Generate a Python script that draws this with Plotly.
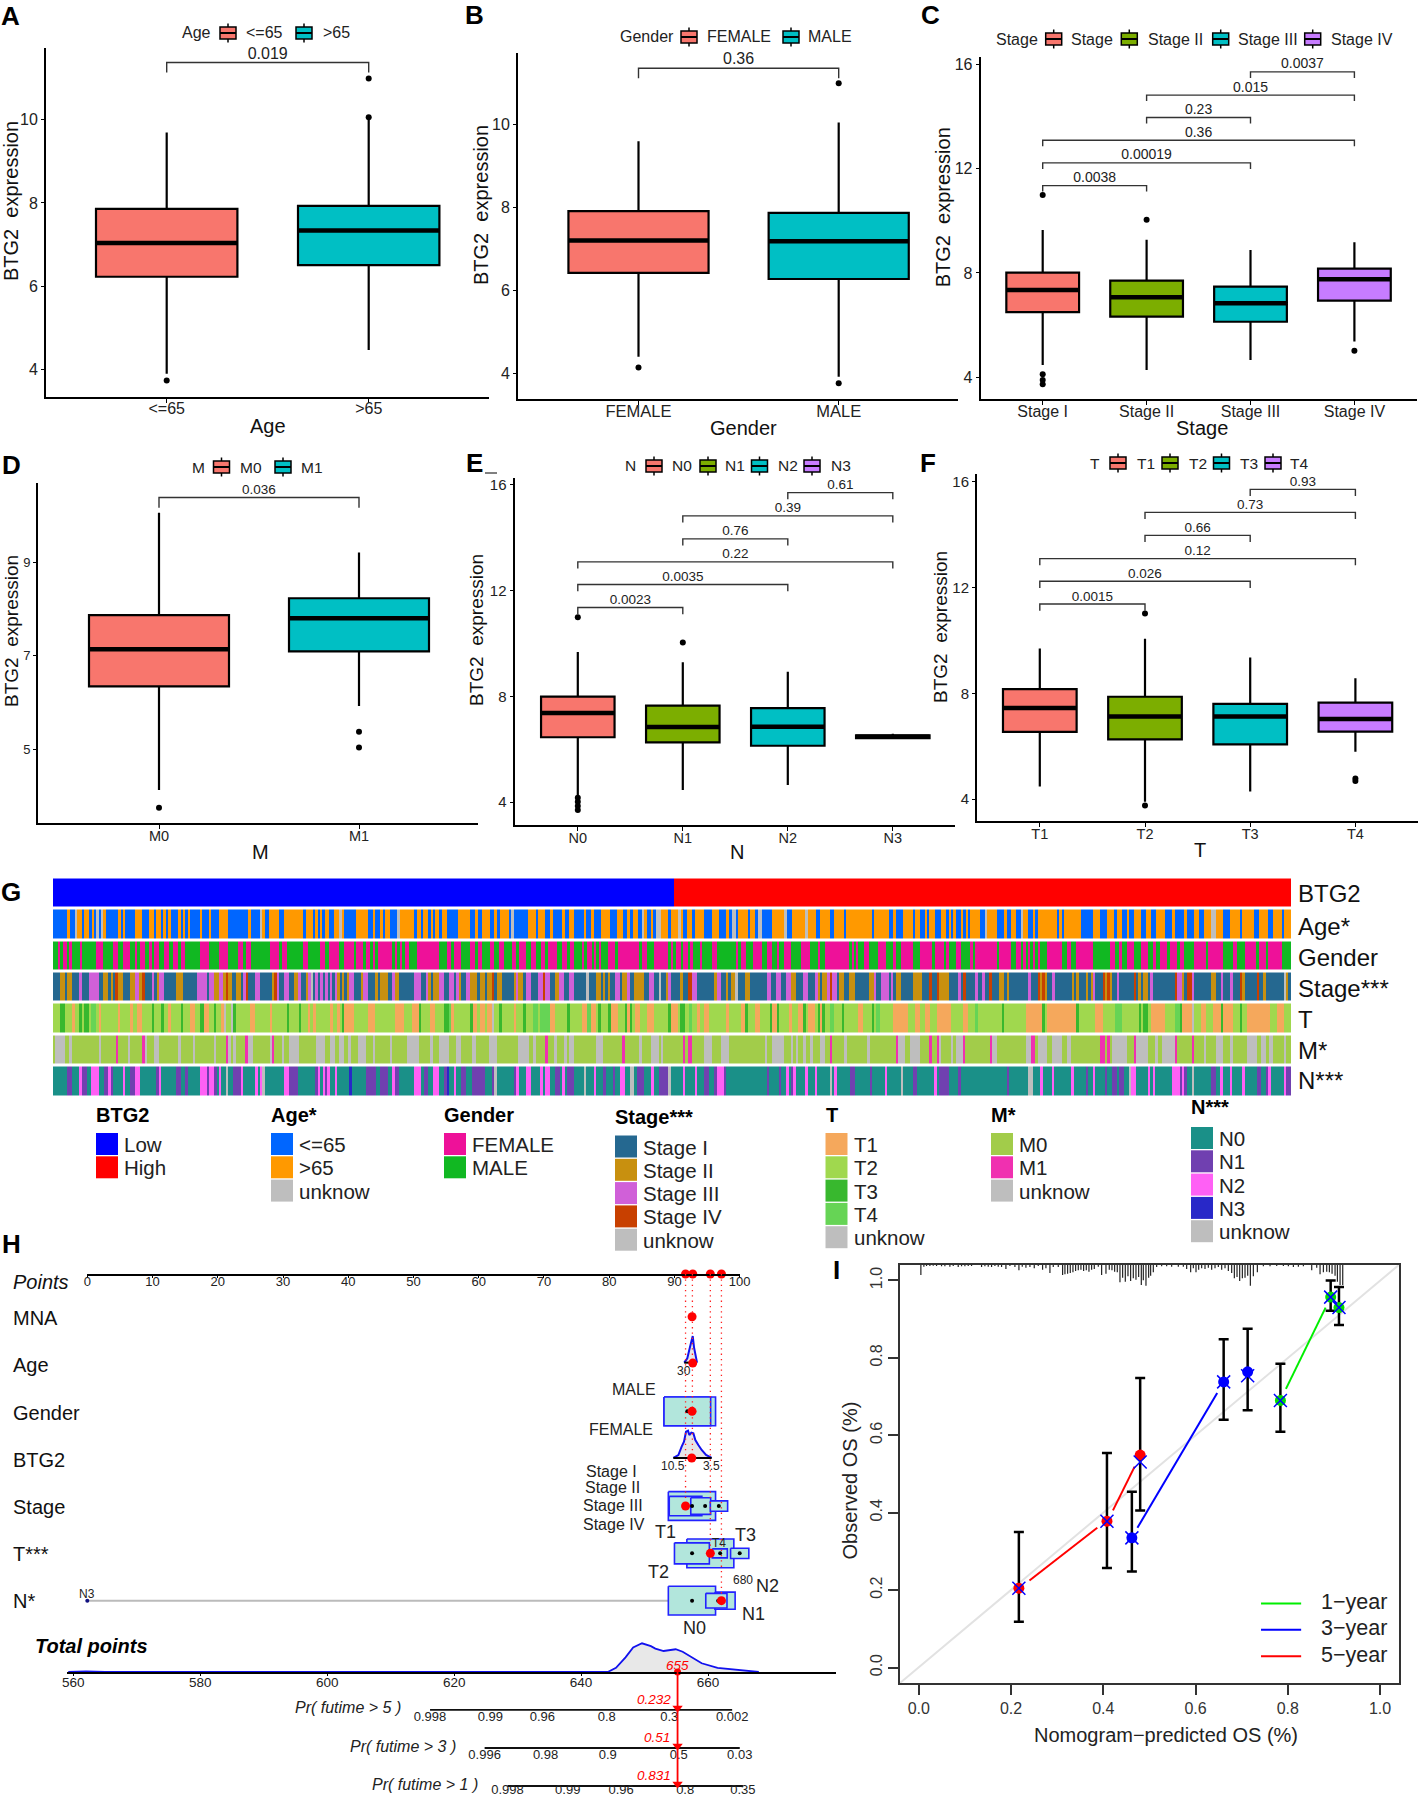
import plotly.graph_objects as go

W, H = 1418, 1798
FONT = "Liberation Sans"
def px(x): return x / W
def py(y): return 1 - y / H

# ---------- panels A-F: box statistics ----------
age_cats = ["<=65", ">65"]
age_q1 = [6.23, 6.51]; age_med = [7.04, 7.34]; age_q3 = [7.86, 7.93]
age_lo = [3.90, 4.47]; age_hi = [9.69, 10.0]
age_out = [[3.74], [10.06, 10.99]]
age_p = [(0, 1, 11.37, "0.019")]

gender_cats = ["FEMALE", "MALE"]
gender_q1 = [6.42, 6.27]; gender_med = [7.20, 7.18]; gender_q3 = [7.91, 7.87]
gender_lo = [4.39, 3.91]; gender_hi = [9.60, 10.05]
gender_out = [[4.13], [3.75, 11.0]]
gender_p = [(0, 1, 11.36, "0.36")]

stage_cats = ["Stage I", "Stage II", "Stage III", "Stage IV"]
stage_q1 = [6.50, 6.33, 6.13, 6.94]; stage_med = [7.35, 7.07, 6.84, 7.76]; stage_q3 = [8.01, 7.71, 7.48, 8.17]
stage_lo = [4.47, 4.28, 4.66, 5.37]; stage_hi = [9.65, 9.27, 8.88, 9.18]
stage_out = [[10.99, 4.12, 3.90, 3.73], [10.04], [], [5.02]]
stage_p = [(0, 1, 11.35, "0.0038"), (0, 2, 12.22, "0.00019"), (0, 3, 13.09, "0.36"),
           (1, 2, 13.96, "0.23"), (1, 3, 14.82, "0.015"), (2, 3, 15.71, "0.0037")]

m_cats = ["M0", "M1"]
m_q1 = [6.34, 7.09]; m_med = [7.14, 7.80]; m_q3 = [7.87, 8.23]
m_lo = [4.12, 5.92]; m_hi = [10.06, 9.21]
m_out = [[3.74], [5.37, 5.03]]
m_p = [(0, 1, 10.39, "0.036")]

n_cats = ["N0", "N1", "N2", "N3"]
n_q1 = [6.45, 6.26, 6.13, 6.42]; n_med = [7.37, 6.84, 6.85, 6.47]; n_q3 = [7.99, 7.65, 7.55, 6.52]
n_lo = [4.26, 4.45, 4.64, 6.38]; n_hi = [9.68, 9.29, 8.93, 6.58]
n_out = [[4.16, 4.01, 3.85, 3.70, 10.99], [10.04], [], []]
n_p = [(0, 1, 11.36, "0.0023"), (0, 2, 12.23, "0.0035"), (0, 3, 13.09, "0.22"),
       (1, 2, 13.96, "0.76"), (1, 3, 14.83, "0.39"), (2, 3, 15.71, "0.61")]

t_cats = ["T1", "T2", "T3", "T4"]
t_q1 = [6.54, 6.26, 6.07, 6.55]; t_med = [7.44, 7.12, 7.12, 7.03]; t_q3 = [8.16, 7.87, 7.60, 7.65]
t_lo = [4.47, 3.90, 4.28, 5.79]; t_hi = [9.70, 10.07, 9.36, 8.57]
t_out = [[], [11.02, 3.75], [], [4.78, 4.68]]
t_p = [(0, 1, 11.38, "0.0015"), (0, 2, 12.24, "0.026"), (0, 3, 13.10, "0.12"),
       (1, 2, 13.98, "0.66"), (1, 3, 14.85, "0.73"), (2, 3, 15.72, "0.93")]

C2 = ["#F8766D", "#00BFC4"]
C4 = ["#F8766D", "#7CAE00", "#00BFC4", "#C77CFF"]

# ---------- panel G: annotation strips, categories read per stripe ----------
btg2_low_n = 621
btg2_high_n = 617
age_runs = [
"L52 O60 L75 U82 O97 L103 O117 L125 O132 L138 U146 L152 U160 O168 L205 O212 L218 O226 L254 O276 L298 O312 L318 O332 L340 O348 L355 O362 L385 O392 L400 O405 L413 O420 L450 O456 L478 O484 L507 O535 L595 O602 L630 U637 O645 L658 O688 L702 O760 L768 O788 L796 O803 L810 O817 L825 O838 L853 O867 U875 O882 L918 O954 L968 O976 L990 O998 L1005 O1020 L1042 U1050 O1092 L1100 O1112 L1120 O1134 L1142 O1148 L1155 O1167 L1175 O1190 L1225 O1260",
"L30 O38 L52 O75 L88 O96 L104 O132 L138 U147 L190 O212 L220 O240 L255 O263 L292 O300 L312 O326 L356 O364 L378 O386 L408 O436 L457 O473 L487 O495 L503 O518 L530 U537 O545 L558 O565 L572 U587 O610 L617 O640 U648 O655 L667 O682 L690 O718 L740 O762 L784 O792 L800 U812 L820 O850 L855 O870 L878 U892 L920 O958 U965 L980 O1020 U1028 O1052 L1065 O1094 L1108 O1136 L1143 O1220 L1228 O1260",
"O27 L40 O48 L68 O98 L105 O120 L134 O140 L148 O164 L184 O198 L206 O213 L220 O228 L243 O250 L257 O264 L271 O300 L315 U322 O350 L372 O380 L394 O408 L422 U430 O444 L459 O466 L473 O530 L537 O545 L552 O603 L639 O660 L682 O703 L710 O725 L740 O747 L762 O783 L797 O812 L827 O855 L877 O884 L913 O921 L942 O957 L971 O992 U1007 O1029 L1050 O1079 L1086 O1121 L1136 O1165 L1179 O1205 L1212 O1240"]
gender_runs = [
"M25 F30 M38 F52 M58 F66 M90 F96 M138 F160 M190 F205 M219 F240 M255 F262 M270 F284 M298 F306 M313 F327 M342 F356 M370 F384 M392 F406 M449 F478 M507 F535 M565 F580 M587 F602 M660 F688 M696 F710 M760 F775 M810 F825 M838 F867 M882 F911 M918 F940 M947 F961 M969 F976 M984 F1027 M1034 F1041 M1049 F1056 M1064 F1078 M1100 F1168 M1190 F1204 M1212 F1233 M1260",
"F30 M38 F52 M75 F88 M103 F118 M140 F154 M162 F183 M198 F212 M227 F240 M249 F277 M292 F306 M314 F328 M350 F357 M365 F380 M387 F393 M401 F408 M430 F450 M458 F522 M530 F545 M567 F610 M618 F625 M633 F647 M654 F668 M676 F683 M705 F712 M741 F755 M812 F820 M827 F842 M863 F892 M907 F921 M935 F943 M957 F978 M1007 F1036 M1058 F1065 M1080 F1152 M1160 F1166 M1174 F1178 M1198 F1212 M1240 F1260",
"F18 M40 F48 M62 F98 M120 F156 M164 F192 M199 F206 M228 F243 M271 F278 M286 F350 M358 F394 M408 F422 M430 F437 M444 F451 M459 F466 M473 F480 M502 F545 M560 F574 M588 F640 M690 F704 M718 F725 M740 F762 M784 F805 M820 F827 M841 F862 M870 F892 M899 F913 M942 F978 M985 F1029 M1058 F1072 M1094 F1129 M1136 F1158 M1165 F1205 M1240"]
stage_runs = [
"I30 J45 I52 J66 I88 K96 I117 K147 I160 J175 I182 J190 I196 V204 J218 I240 J254 K268 J276 V284 I306 K312 I320 J327 K342 I377 J400 I442 K470 I478 K492 J507 K520 J528 V535 J545 I557 J574 I580 K587 V594 I616 K630 I665 J673 V681 K688 I702 K716 I731 J745 K752 I768 J775 K782 U789 I796 K803 I811 K818 I825 K833 I840 K847 I854 K862 J869 I876 J883 I890 J897 K912 I933 J940 K954 I976 J984 I990 J1013 I1027 K1034 J1048 I1091 K1114 I1128 K1135 J1142 I1150 J1168 K1182 I1197 K1211 I1218 K1226 J1233 I1247 K1260",
"J37 I45 J60 I66 J80 V88 I96 J110 I146 J154 K160 J175 I182 K197 I219 K233 V240 K255 I270 J283 K296 I313 K327 I364 U372 I392 J407 I414 J421 I429 J436 I450 K464 I472 J486 K494 I508 J537 I552 K567 I582 U588 I602 J610 K617 I645 J653 I668 V682 K696 I747 J755 K768 I782 J790 I797 J811 U818 I840 J855 I905 K919 I934 K948 I963 K978 J992 I1014 K1029 I1051 K1058 J1065 I1072 J1087 K1094 V1101 K1116 I1123 J1137 I1152 J1170 I1212 J1227 K1234 I1248 K1260",
"K27 I33 K38 I48 J62 I98 J127 I148 V156 I170 V178 J206 I235 K242 I250 V257 I285 K293 I307 K315 I328 V336 I357 J372 I380 J387 I444 K452 I473 V480 J487 V494 J502 I516 K525 I575 J582 I589 J596 I618 J625 I632 J639 K646 I668 V675 J682 V689 J696 I710 K718 I761 V768 I775 J782 I790 J804 I811 K818 I884 V892 K906 J913 I921 V935 K943 I994 J1008 I1022 K1029 I1051 K1058 I1079 V1086 J1094 I1130 V1137 I1150 J1158 I1212 U1219 J1225 I1240"]
t_runs = [
"b30 c45 b66 a75 b88 c96 b103 c117 b124 d138 b146 a154 b204 a211 b240 a248 b262 a276 b305 c312 b333 c341 b355 a363 b392 c400 b420 a435 b449 c463 a478 b491 c499 b513 a521 u528 b543 u550 c558 b600 a616 b660 a667 b710 c717 b746 c754 b773 a781 b789 a797 b840 a848 b862 a869 b876 c883 a912 b955 a976 b1034 a1063 b1085 a1107 c1114 b1140 a1154 b1182 c1196 d1204 a1212 b1260",
"c23 a37 b45 a59 b66 a80 u88 b103 c110 b146 a154 b175 c183 b205 d219 b226 d255 a270 b306 c314 b350 a365 d378 a393 b400 c408 b430 c437 a459 b480 c487 a494 c502 b509 a524 b545 a567 b610 c617 a640 b646 c660 b672 d682 b696 a704 b718 a733 b784 a792 b828 a840 c848 b870 a884 b914 c921 a935 c943 b972 a980 b1000 a1014 c1022 b1029 a1051 b1058 c1065 a1072 c1079 b1094 d1108 b1130 c1137 b1179 a1194 b1220 c1227 b1234 d1245 b1260",
"b40 a84 b105 a120 b135 a149 b170 a214 b250 a264 b286 d293 b365 c372 b437 a487 c495 b502 a589 c596 b646 a668 b704 d725 b776 c783 b790 c804 b812 a855 b884 d900 c907 a935 u943 b964 a978 b1000 a1022 c1029 a1058 b1079 c1086 b1100 a1170 b1190 a1212 b1240"]
m_runs = [
"m15 u45 m58 u66 m147 u154 m197 p204 m233 u240 m276 p284 u291 m312 u327 m385 u392 m430 u435 m492 u499 m528 p535 u543 m550 u558 m586 p594 u608 m660 u667 p673 m695 u702 m716 u746 m797 u826 m840 u855 m868 u882 m895 u904 m925 u947 m968 u976 m1020 u1027 m1070 u1107 m1140 u1150 m1168 u1196 m1217 u1233 m1260",
"m22 u32 m73 u95 m160 u192 m205 u212 m240 p248 m268 u277 m298 u305 m312 u327 m392 u414 m472 p479 m522 u530 m557 u582 m588 u595 m653 p660 m668 p681 m717 u741 m768 u791 m899 u906 m920 u957 m978 u985 m993 u1000 m1014 u1022 m1036 u1043 m1065 u1080 m1094 p1101 m1137 u1145 m1205 u1214 m1260",
"m47 p54 u76 m90 u119 m148 p155 m170 p177 u184 m213 u220 m227 u249 p256 m330 p337 u350 m437 u452 p466 m474 u502 m517 u545 m560 u574 m660 p675 m682 p689 m696 u740 m761 p768 u804 m826 u833 m847 u884 p891 m935 p942 m971 u978 m1007 u1029 m1050 u1060 m1100 u1130 m1144 u1158 m1168 u1180 m1212 u1219 m1240"]
n_runs = [
"n52 o66 n88 q95 o110 n124 q147 n161 o175 q182 o190 n219 q226 n240 o255 q269 n319 o326 q333 n378 o392 n406 o413 n449 q471 o478 q492 o500 n507 q514 n528 u535 n550 o574 q580 n616 q623 n630 q637 u645 n701 q716 o745 n796 o803 q811 n818 q825 o832 q840 n854 q862 n897 r905 n948 o977 n991 o1013 n1027 q1034 o1048 n1091 q1114 n1121 o1135 n1150 q1168 n1182 o1190 r1197 n1212 q1219 n1233 o1247 n1260",
"n22 o60 n80 o87 u95 n146 o154 q161 n183 q197 n226 q233 n240 q255 n270 o284 n291 q299 n306 o328 n357 u364 n386 q393 n415 o422 n444 o451 n465 q480 n494 u508 n516 o537 n559 q566 n581 o610 u617 n653 q660 n689 q696 n718 o733 n747 o755 q776 o783 n905 o912 n941 o949 n963 q971 n978 o985 q992 n1021 q1028 n1050 q1057 n1094 u1101 n1108 q1115 n1156 o1170 n1214 o1221 n1260",
"q20 n62 u69 n98 o112 n162 q170 n178 o206 n234 o242 n380 o387 n444 u459 n481 q488 n516 q523 n574 q581 n617 o625 n639 q646 n675 o682 n696 o710 n718 o732 n746 u754 q768 n804 q811 n818 q826 n877 q899 o906 q913 o920 n935 u942 n994 o1007 n1021 q1029 n1050 q1057 n1086 q1094 n1130 o1144 n1158 o1165 q1173 n1212 q1219 o1233 n1240"]

codes = {"X": "#0000FF", "Y": "#FF0000",
         "L": "#0066FF", "O": "#FF9900", "U": "#BEBEBE",
         "F": "#EE1199", "M": "#11B822",
         "I": "#256890", "J": "#C8900F", "K": "#D060D8", "V": "#C84000",
         "a": "#F5A85C", "b": "#A0D84E", "c": "#38B82E", "d": "#66D455", "u": "#BEBEBE",
         "m": "#A2CC4A", "p": "#F030B0",
         "n": "#1A9088", "o": "#7040B0", "q": "#FF60F5", "r": "#2828C8"}
code_list = list(codes)
NC = len(code_list)
G_L, G_R = 53, 1291
G_N = G_R - G_L
origins = [50, 465, 880]
starts = [10, 15, 15]

def expand(sections):
    row = [None] * G_N
    for org, st, sec in zip(origins, starts, sections):
        prev = st
        for tok in sec.split():
            c, e = tok[0], int(tok[1:])
            a = int(round(org + prev / 3 - G_L))
            b = int(round(org + e / 3 - G_L))
            for i in range(max(a, 0), min(b, G_N)):
                row[i] = code_list.index(c) + 0.5
            prev = e
    last = code_list.index(sections[-1].split()[-1][0]) + 0.5
    return [last if v is None else v for v in row]

btg2_row = [code_list.index("X") + 0.5] * btg2_low_n + [code_list.index("Y") + 0.5] * btg2_high_n
z_rows = [btg2_row, expand(age_runs), expand(gender_runs), expand(stage_runs),
          expand(t_runs), expand(m_runs), expand(n_runs)]
g_row_names = ["BTG2", "Age*", "Gender", "Stage***", "T", "M*", "N***"]
g_row_y = [894, 926, 957.7, 988, 1019, 1050, 1080]

g_legends = [
    ("BTG2", 96, 1115, 1133, [("Low", "X"), ("High", "Y")]),
    ("Age*", 271, 1115, 1133, [("<=65", "L"), (">65", "O"), ("unknow", "U")]),
    ("Gender", 444, 1115, 1133, [("FEMALE", "F"), ("MALE", "M")]),
    ("Stage***", 615, 1117, 1135.5, [("Stage I", "I"), ("Stage II", "J"), ("Stage III", "K"), ("Stage IV", "V"), ("unknow", "U")]),
    ("T", 825.5, 1115, 1133, [("T1", "a"), ("T2", "b"), ("T3", "c"), ("T4", "d"), ("unknow", "u")]),
    ("M*", 991, 1115, 1133, [("M0", "m"), ("M1", "p"), ("unknow", "u")]),
    ("N***", 1191, 1107, 1127, [("N0", "n"), ("N1", "o"), ("N2", "q"), ("N3", "r"), ("unknow", "u")]),
]

# ---------- panel H: nomogram ----------
pts_ticks = list(range(0, 101, 10))
tot_ticks = [560, 580, 600, 620, 640, 660]
red_points = [91.7, 92.8, 95.5, 97.2]
row_names = ["MNA", "Age", "Gender", "BTG2", "Stage", "T***", "N*"]
row_label_y = [1318, 1365, 1412.6, 1460, 1507, 1554, 1601]
# (left, right, row, half height) in points
gender_boxes = [(88.4, 96.3, 3, .304), (88.4, 95.55, 3, .304)]
stagebx = [(89.06, 96.3, 5, .304), (89.2, 94.2, 5, .204), (92.5, 95.55, 5, .176), (95.5, 98.15, 5, .109)]
t_boxes = [(91.9, 99.1, 6, .304), (90.0, 95.35, 6, .222), (95.8, 98.1, 6, .095), (98.6, 101.4, 6, .109)]
n_boxes = [(89.06, 96.3, 7, .304), (96.2, 99.3, 7, .18), (94.8, 98.05, 7, .155)]
dots_x = [91.97, 92.7, 94.7, 96.8, 92.7, 97.0, 100.0, 92.7, 96.7]
dots_r = [3, 5, 5, 5, 6, 6, 6, 7, 7]
red_x = [92.7, 92.8, 92.7, 92.65, 91.7, 95.5, 97.2]
red_r = [1, 1.98, 3, 3.985, 5, 6, 7]
drop_x = [91.7, 92.75, 95.5, 97.2]
drop_r = [5, 4, 6, 7]
age_dx = [91.5, 91.97, 92.28, 92.5, 92.8, 93.0, 93.25, 93.46]
age_dr = [1.971, 1.88, 1.70, 1.598, 1.408, 1.647, 1.88, 1.971]
btg_dx = [89.83, 90.6, 91.1, 91.46, 91.77, 92.08, 92.28, 92.59, 92.9, 93.2, 93.66, 94.17, 94.84, 95.7]
btg_dr = [3.985, 3.922, 3.746, 3.64, 3.43, 3.408, 3.5, 3.45, 3.464, 3.605, 3.71, 3.816, 3.922, 3.985]
dens_x = [559.2, 562, 565, 566, 644.2, 645.5, 647, 648.2, 649.6, 651, 651.7, 653, 654.9, 656, 656.9, 659, 661.5, 664, 666.6, 668]
dens_h = [0, 2, 0, 0, 0, 12, 42, 70, 82, 74, 67, 60, 65, 58, 48, 25, 12, 7, 1, 0]
pr5_pos = [616.2, 625.7, 633.9, 644.05, 653.9, 663.8]; pr5_lab = ["0.998", "0.99", "0.96", "0.8", "0.3", "0.002"]
pr3_pos = [624.8, 634.4, 644.2, 655.4, 665.0]; pr3_lab = ["0.996", "0.98", "0.9", "0.5", "0.03"]
pr1_pos = [628.4, 637.9, 646.3, 656.4, 665.5]; pr1_lab = ["0.998", "0.99", "0.96", "0.8", "0.35"]
total_pred = 655.2

# ---------- panel I: calibration ----------
y5_x = [0.217, 0.408, 0.480]; y5_obs = [0.205, 0.378, 0.549]; y5_mark = [0.205, 0.378, 0.531]
y5_hi = [0.350, 0.554, 0.748]; y5_lo = [0.118, 0.257, 0.406]
y3_x = [0.462, 0.661, 0.713]; y3_obs = [0.335, 0.738, 0.764]; y3_mark = [0.335, 0.738, 0.754]
y3_hi = [0.454, 0.848, 0.875]; y3_lo = [0.248, 0.640, 0.665]
y1_x = [0.784, 0.893, 0.911]; y1_obs = [0.690, 0.957, 0.930]; y1_mark = [0.690, 0.957, 0.930]
y1_hi = [0.785, 1.0, 0.983]; y1_lo = [0.609, 0.922, 0.885]
red_seg_x = [0.24, 0.387, None, 0.421, 0.468]; red_seg_y = [0.225, 0.361, None, 0.406, 0.519]
blue_seg_x = [0.474, 0.647, None, 0.893, 0.911]; blue_seg_y = [0.361, 0.709, None, 0.957, 0.930]
green_seg_x = [0.796, 0.882]; green_seg_y = [0.72, 0.93]
rug_pos = [63,72,80,90,100,110,125,135,150,160,175,185,195,205,215,245,255,265,275,285,295,305,318,330,345,357,367,378,390,403,415,428,438,450,460,475,488,495,503,511,519,527,535,543,551,559,567,575,583,595,605,618,628,636,644,652,660,668,676,684,692,700,708,716,724,730,738,746,752,760,770,785,800,815,835,850,860,872,880,888,896,905,915,925,935,945,955,965,975,985,995,1003,1011,1019,1027,1035,1043,1051,1060,1072,1090,1110,1130,1150,1165,1180,1195,1210,1235,1250,1260,1270,1280,1288,1296,1305,1312,1320,1328]
rug_len = [30,5,3,3,2,3,4,4,5,3,6,4,4,3,3,6,4,5,6,3,5,6,12,3,6,16,5,8,6,10,3,14,10,24,6,6,30,28,26,24,22,18,16,14,18,16,20,14,12,5,30,26,14,16,20,22,52,38,50,34,48,40,44,36,60,46,62,38,32,22,6,4,4,5,5,5,12,22,10,22,14,10,12,8,14,10,6,14,10,18,24,40,36,48,40,38,32,62,34,22,4,4,3,3,4,6,5,4,16,8,28,22,20,22,26,32,50,60,60]

# ---------- figure ----------
fig = go.Figure()
layout = dict(width=W, height=H, margin=dict(l=0, r=0, t=0, b=0, pad=0, autoexpand=False), showlegend=False,
              paper_bgcolor="white", plot_bgcolor="rgba(0,0,0,0)", font=dict(family=FONT, color="#111"))
ann, shp = [], []

def T(text, x, y, size=16, color="#111", xa="center", angle=0, bold=False, italic=False):
    if bold: text = "<b>%s</b>" % text
    if italic: text = "<i>%s</i>" % text
    if xa == "left": x -= 2
    ann.append(dict(text=text, x=px(x), y=py(y), xref="paper", yref="paper", showarrow=False,
                    xanchor=xa, yanchor="middle", textangle=angle,
                    font=dict(size=size, color=color, family=FONT)))

def paper_line(x0, y0, x1, y1, color="black", w=1.5):
    shp.append(dict(type="line", xref="paper", yref="paper", x0=px(x0), x1=px(x1), y0=py(y0), y1=py(y1),
                    line=dict(color=color, width=w)))

def paper_rect(x0, y0, x1, y1, fill, line=None, w=1.5):
    shp.append(dict(type="rect", xref="paper", yref="paper", x0=px(x0), x1=px(x1), y0=py(y0), y1=py(y1),
                    fillcolor=fill, line=dict(color=line or fill, width=w if line else 0)))

def key(cx, cy, col):
    paper_line(cx, cy - 9.5, cx, cy + 9.5, w=1.5)
    paper_rect(cx - 8, cy - 6, cx + 8, cy + 6, col, "black", 1.5)
    paper_line(cx - 8, cy, cx + 8, cy, w=2)

axis_n = [0]
def new_axes():
    axis_n[0] += 1
    n = axis_n[0]
    return n, ("x%d" % n if n > 1 else "x"), ("y%d" % n if n > 1 else "y"), \
        ("xaxis%d" % n if n > 1 else "xaxis"), ("yaxis%d" % n if n > 1 else "yaxis")

def box_panel(cats, q1, med, q3, lo, hi, outl, pvals, colors, L, R, Tp, B, cat0, sp, ref, ref_px, unit,
              yticks, tick_size, xtick_size, p_size, drop):
    n, xa, ya, xk, yk = new_axes()
    xmin = -(cat0 - L) / sp
    xmax = len(cats) - 1 + (R - (cat0 + sp * (len(cats) - 1))) / sp
    ymin = ref - (B - ref_px) / unit
    ymax = ref + (ref_px - Tp) / unit
    layout[xk] = dict(domain=[px(L), px(R)], range=[xmin, xmax], anchor=ya, tickmode="array",
                      tickvals=list(range(len(cats))), ticktext=cats, showline=True, linecolor="black", linewidth=2,
                      ticks="outside", ticklen=4, tickcolor="black", showgrid=False, zeroline=False,
                      ticklabelstandoff=(-8 if n <= 3 else -5),
                      tickfont=dict(size=xtick_size, color="#222", family=FONT))
    layout[yk] = dict(domain=[py(B), py(Tp)], range=[ymin, ymax], anchor=xa, tickmode="array",
                      tickvals=yticks, showline=True, linecolor="black", linewidth=2,
                      ticks="outside", ticklen=3, tickcolor="black", showgrid=False, zeroline=False,
                      tickfont=dict(size=tick_size, color="#222", family=FONT))
    for i, c in enumerate(cats):
        fig.add_trace(go.Box(x=[i], q1=[q1[i]], median=[med[i]], q3=[q3[i]], lowerfence=[lo[i]], upperfence=[hi[i]],
                             width=0.7, whiskerwidth=0, fillcolor=colors[i], line=dict(color="black", width=2.2),
                             boxpoints=False, xaxis=xa, yaxis=ya, name=c))
        fig.add_trace(go.Scatter(x=[i - 0.35, i + 0.35], y=[med[i], med[i]], mode="lines",
                                 line=dict(color="black", width=4.5), xaxis=xa, yaxis=ya))
        if outl[i]:
            fig.add_trace(go.Scatter(x=[i] * len(outl[i]), y=outl[i], mode="markers",
                                     marker=dict(color="black", size=6), xaxis=xa, yaxis=ya))
    for a, b, yy, lab in pvals:
        fig.add_trace(go.Scatter(x=[a, a, b, b], y=[yy - drop, yy, yy, yy - drop], mode="lines",
                                 line=dict(color="#333", width=1.4), xaxis=xa, yaxis=ya))
        fig.add_trace(go.Scatter(x=[(a + b) / 2], y=[yy], mode="text", text=[lab], textposition="top center",
                                 textfont=dict(size=p_size, color="#222", family=FONT), xaxis=xa, yaxis=ya, cliponaxis=False))

box_panel(age_cats, age_q1, age_med, age_q3, age_lo, age_hi, age_out, age_p, C2, 46, 489, 48, 397, 166.7, 202, 4, 369.67, 41.67, [4, 6, 8, 10], 16, 16, 16, .24)
box_panel(gender_cats, gender_q1, gender_med, gender_q3, gender_lo, gender_hi, gender_out, gender_p, C2, 518, 958, 53, 398.7, 638.5, 200.2, 4, 373, 41.4, [4, 6, 8, 10], 16, 16.5, 16, .24)
box_panel(stage_cats, stage_q1, stage_med, stage_q3, stage_lo, stage_hi, stage_out, stage_p, C4, 980.7, 1417.3, 56.7, 399.3, 1042.7, 103.9, 4, 377.3, 26.08, [4, 8, 12, 16], 16, 16, 14, .23)
box_panel(m_cats, m_q1, m_med, m_q3, m_lo, m_hi, m_out, m_p, C2, 38, 478, 483, 823, 159, 200, 5, 749, 46.67, [5, 7, 9], 13, 14.5, 13.5, .22)
box_panel(n_cats, n_q1, n_med, n_q3, n_lo, n_hi, n_out, n_p, C4, 514.5, 955, 477.7, 824.7, 577.8, 105, 4, 802, 26.42, [4, 8, 12, 16], 15, 14.5, 13.5, .25)
box_panel(t_cats, t_q1, t_med, t_q3, t_lo, t_hi, t_out, t_p, C4, 977, 1418, 474, 821, 1039.8, 105.2, 4, 799, 26.42, [4, 8, 12, 16], 15, 14.5, 13.5, .25)

NB = "\u00a0\u00a0"
YT = "BTG2" + NB + "expression"
for x, y, s in [(11, 201, 20), (481, 205, 20), (943.3, 207, 20), (11, 631, 19), (477, 630, 19), (940, 627, 19)]:
    T(YT, x, y, s, angle=-90, color="#111")
for txt, x, y in [("Age", 268, 426), ("Gender", 743, 428), ("Stage", 1201.7, 428), ("M", 260, 852), ("N", 737, 852), ("T", 1200, 850)]:
    T(txt, x, y, 20)
for txt, x, y in [("A", 10, 16), ("B", 474, 15), ("C", 930, 15), ("D", 11, 465), ("E", 474, 463), ("F", 928, 463),
                  ("G", 11, 892), ("H", 11, 1244), ("I", 836, 1270)]:
    T(txt, x, y, 26, bold=True, color="black")
paper_line(485, 473, 497, 473, w=1)

# box legends
for txt, x, y, s in [("Age", 196, 33, 16), ("<=65", 264, 33, 16), (">65", 336, 33, 16),
                     ("Gender", 647, 37, 16), ("FEMALE", 739, 37, 16), ("MALE", 830, 37, 16),
                     ("Stage", 1016.7, 39, 16), ("Stage", 1092.3, 39, 16), ("Stage II", 1175, 39, 16), ("Stage III", 1268, 39, 16), ("Stage IV", 1362, 39, 16),
                     ("M", 198, 467, 15.5), ("M0", 251, 467, 15.5), ("M1", 312, 467, 15.5),
                     ("N", 630, 466, 15.5), ("N0", 682, 466, 15.5), ("N1", 735, 466, 15.5), ("N2", 787.5, 466, 15.5), ("N3", 841, 466, 15.5),
                     ("T", 1095, 463, 15.5), ("T1", 1145.5, 463, 15.5), ("T2", 1198, 463, 15.5), ("T3", 1248.6, 463, 15.5), ("T4", 1299, 463, 15.5)]:
    T(txt, x, y, s, color="#222")
for x, y, c in [(228, 33, C2[0]), (304, 33, C2[1]), (689, 37, C2[0]), (791, 37, C2[1]),
                (1053.7, 39, C4[0]), (1129.3, 39, C4[1]), (1220.7, 39, C4[2]), (1312.7, 39, C4[3]),
                (221.5, 467, C2[0]), (283, 467, C2[1]),
                (654, 466, C4[0]), (708, 466, C4[1]), (759.5, 466, C4[2]), (812, 466, C4[3]),
                (1118, 463, C4[0]), (1170, 463, C4[1]), (1221.5, 463, C4[2]), (1273, 463, C4[3])]:
    key(x, y, c)

# G heatmap
n, xa, ya, xk, yk = new_axes()
layout[xk] = dict(domain=[px(G_L), px(G_R)], range=[-0.5, G_N - 0.5], anchor=ya, visible=False)
layout[yk] = dict(domain=[py(1097), py(877.5)], range=[6.5, -0.5], anchor=xa, visible=False)
cs = []
for i, c in enumerate(code_list):
    cs += [[i / NC, codes[c]], [(i + 1) / NC, codes[c]]]
fig.add_trace(go.Heatmap(z=z_rows, zmin=0, zmax=NC, colorscale=cs, showscale=False, ygap=3, xaxis=xa, yaxis=ya,
                         hoverinfo="skip"))
for name, y in zip(g_row_names, g_row_y):
    T(name, 1297.5, y, 24, xa="left")
for title, x, ty, ky, items in g_legends:
    T(title, x, ty, 20, xa="left", bold=True, color="black")
    for i, (lab, c) in enumerate(items):
        y0 = ky + i * 23.3
        paper_rect(x, y0, x + 22, y0 + 22, codes[c])
        T(lab, x + 28, y0 + 11.5, 20.5, xa="left", color="#222")

# H: points axis
n, xa, ya, xk, yk = new_axes()
layout[xk] = dict(domain=[px(87.3), px(739.7)], range=[0, 100], anchor=ya, tickmode="array", tickvals=pts_ticks,
                  showline=True, linecolor="black", linewidth=2, ticks="outside", ticklen=2, tickcolor="black",
                  showgrid=False, zeroline=False, ticklabelstandoff=-8, tickfont=dict(size=13, color="#222", family=FONT))
layout[yk] = dict(domain=[py(1274), py(1250)], range=[0, 1], anchor=xa, visible=False)
fig.add_trace(go.Scatter(x=red_points, y=[0] * 4, mode="markers", marker=dict(color="#FF0000", size=9),
                         xaxis=xa, yaxis=ya, cliponaxis=False))

# H: nomogram body
n, xa, ya, xk, yk = new_axes()
NL, NR = 67, 800
layout[xk] = dict(domain=[px(NL), px(NR)], range=[(NL - 87.3) / 6.524, (NR - 87.3) / 6.524], anchor=ya, visible=False)
layout[yk] = dict(domain=[py(1640), py(1250)], range=[(1640 - 1269.37) / 47.33, (1250 - 1269.37) / 47.33], anchor=xa, visible=False)

def draw_boxes(boxes):
    for l, r, row, h in boxes:
        fig.add_trace(go.Scatter(x=[l, r, r, l, l], y=[row - h, row - h, row + h, row + h, row - h], mode="lines",
                                 fill="toself", fillcolor="#B2E6DC", line=dict(color="#2222FF", width=1.6),
                                 xaxis=xa, yaxis=ya))

fig.add_trace(go.Scatter(x=[0, 89.06], y=[7, 7], mode="lines", line=dict(color="#BBBBBB", width=2), xaxis=xa, yaxis=ya))
fig.add_trace(go.Scatter(x=[0], y=[7], mode="markers", marker=dict(color="#101080", size=4), xaxis=xa, yaxis=ya))
for bx in (gender_boxes, stagebx, t_boxes, n_boxes):
    draw_boxes(bx)
for dx, dr in ((age_dx, age_dr), (btg_dx, btg_dr)):
    fig.add_trace(go.Scatter(x=dx, y=dr, mode="lines", fill="toself", fillcolor="#E6E6E6",
                             line=dict(color="#1111EE", width=2), xaxis=xa, yaxis=ya))
    fig.add_trace(go.Scatter(x=[dx[0], dx[-1]], y=[dr[0], dr[-1]], mode="lines", line=dict(color="black", width=2), xaxis=xa, yaxis=ya))
fig.add_trace(go.Scatter(x=dots_x, y=dots_r, mode="markers", marker=dict(color="black", size=4), xaxis=xa, yaxis=ya))
for x, r in zip(drop_x, drop_r):
    fig.add_trace(go.Scatter(x=[x, x], y=[0.1, r], mode="lines", line=dict(color="#FF2020", width=1.3, dash="1.3px,4px"), xaxis=xa, yaxis=ya))
fig.add_trace(go.Scatter(x=red_x, y=red_r, mode="markers", marker=dict(color="#FF0000", size=9), xaxis=xa, yaxis=ya))

T("Points", 13, 1282, 20, xa="left", italic=True)
for name, y in zip(row_names, row_label_y):
    T(name, 13, y, 20, xa="left")
T("Total points", 35, 1646, 20, xa="left", bold=True, italic=True, color="black")
for txt, x, y, s in [("MALE", 634, 1389, 16), ("FEMALE", 621, 1429, 16), ("Stage I", 611.8, 1471, 16), ("Stage II", 612, 1487.8, 16),
                     ("Stage III", 613, 1505, 16), ("Stage IV", 614, 1524.5, 16), ("T1", 665, 1531.5, 18), ("T2", 658, 1571.7, 18),
                     ("T3", 746, 1535, 18), ("T4", 719, 1543, 12), ("680", 743.4, 1580.4, 12), ("N2", 767, 1586, 18), ("N1", 753.6, 1613.6, 18),
                     ("N0", 694.7, 1627.6, 18), ("N3", 87.3, 1593.7, 12), ("30", 684, 1371, 12), ("10.5", 673, 1466, 12), ("3.5", 711, 1466, 12)]:
    T(txt, x, y, s, color="#222")

# H: total points
n, xa, ya, xk, yk = new_axes()
layout[xk] = dict(domain=[px(67), px(835.6)], range=[559, 680.1], anchor=ya, tickmode="array", tickvals=tot_ticks,
                  showline=True, linecolor="black", linewidth=2, ticks="outside", ticklen=2, tickcolor="black",
                  showgrid=False, zeroline=False, ticklabelstandoff=-5, tickfont=dict(size=13.5, color="#222", family=FONT))
layout[yk] = dict(domain=[py(1672), py(1640.5)], range=[0, 90], anchor=xa, visible=False)
fig.add_trace(go.Scatter(x=dens_x, y=dens_h, mode="lines", fill="toself", fillcolor="#E8E8E8",
                         line=dict(color="#1111EE", width=1.8), xaxis=xa, yaxis=ya))
fig.add_trace(go.Scatter(x=[total_pred], y=[0], mode="markers", marker=dict(color="#FF0000", size=7),
                         xaxis=xa, yaxis=ya, cliponaxis=False))

# H: probability scales (y values are the scale's height on the page)
n, xa, ya, xk, yk = new_axes()
layout[xk] = dict(domain=[px(67), px(835.6)], range=[559, 680.1], anchor=ya, visible=False)
layout[yk] = dict(domain=[py(1798), py(1672)], range=[1798, 1672], anchor=xa, visible=False)
for pos, lab, y, ly, title, tx, val, vx in [(pr5_pos, pr5_lab, 1709.8, 1717.5, "Pr( futime > 5 )", 348, "0.232", 653.5),
                                            (pr3_pos, pr3_lab, 1748, 1755.5, "Pr( futime > 3 )", 403, "0.51", 656.6),
                                            (pr1_pos, pr1_lab, 1786, 1791, "Pr( futime > 1 )", 425, "0.831", 653.5)]:
    fig.add_trace(go.Scatter(x=[pos[0], pos[-1]], y=[y, y], mode="lines", line=dict(color="#111", width=1.8), xaxis=xa, yaxis=ya))
    fig.add_trace(go.Scatter(x=pos, y=[ly] * len(pos), mode="text", text=lab, textposition="middle center",
                             textfont=dict(size=13, color="#222", family=FONT), xaxis=xa, yaxis=ya, cliponaxis=False))
    T(title, tx, y - 2, 16, italic=True, color="#222")
    T(val, vx, y - 10.5, 13.5, italic=True, color="#FF0000")
fig.add_trace(go.Scatter(x=[total_pred, total_pred], y=[1672, 1785], mode="lines", line=dict(color="#FF0000", width=1.8), xaxis=xa, yaxis=ya))
fig.add_trace(go.Scatter(x=[total_pred] * 3, y=[1708, 1746, 1784], mode="markers",
                         marker=dict(color="#FF0000", size=9, symbol="triangle-down"), xaxis=xa, yaxis=ya, cliponaxis=False))
T("655", 677.5, 1665, 13.5, italic=True, color="#FF0000")

# I: calibration
n, xa, ya, xk, yk = new_axes()
ax_i = dict(showline=True, linecolor="#333", linewidth=2, mirror=True, ticks="outside", ticklen=10, tickcolor="#333", tickwidth=1.5,
            showgrid=False, zeroline=False, tickmode="array", tickvals=[0, .2, .4, .6, .8, 1],
            ticktext=["0.0", "0.2", "0.4", "0.6", "0.8", "1.0"], tickfont=dict(size=16, color="#333", family=FONT))
layout[xk] = dict(domain=[px(900), px(1398.8)], range=[-0.0407, 1.0407], anchor=ya, **ax_i)
layout[yk] = dict(domain=[py(1683), py(1265)], range=[-0.04, 1.04], anchor=xa, tickangle=-90, **ax_i)
fig.add_trace(go.Scatter(x=[-0.0407, 1.0407], y=[-0.04, 1.04], mode="lines", line=dict(color="#E2E2E2", width=2), xaxis=xa, yaxis=ya))
rug_x = [z * 0.000723 - 0.041 for z in rug_pos]
rx, ry = [], []
for v, l in zip(rug_x, rug_len):
    rx += [v, v, None]
    ry += [1.04, 1.04 - l / 3 / 386.7, None]
fig.add_trace(go.Scatter(x=rx, y=ry, mode="lines", line=dict(color="#222", width=1.2), xaxis=xa, yaxis=ya))
for sx, sy, col in [(red_seg_x, red_seg_y, "#FF0000"), (blue_seg_x, blue_seg_y, "#0000FF"), (green_seg_x, green_seg_y, "#00EE00")]:
    fig.add_trace(go.Scatter(x=sx, y=sy, mode="lines", line=dict(color=col, width=2), xaxis=xa, yaxis=ya))
for xs, obs, mark, hi, lo, col in [(y5_x, y5_obs, y5_mark, y5_hi, y5_lo, "#FF0000"), (y3_x, y3_obs, y3_mark, y3_hi, y3_lo, "#0000FF"), (y1_x, y1_obs, y1_mark, y1_hi, y1_lo, "#00DD00")]:
    fig.add_trace(go.Scatter(x=xs, y=obs, mode="markers", marker=dict(color=col, size=11), xaxis=xa, yaxis=ya,
                             error_y=dict(type="data", symmetric=False, array=[h - o for h, o in zip(hi, obs)],
                                          arrayminus=[o - l for o, l in zip(obs, lo)], color="black", thickness=2.5, width=5)))
    fig.add_trace(go.Scatter(x=xs, y=mark, mode="markers", marker=dict(symbol="x-thin", size=13, line=dict(color="#0000FF", width=1.5)), xaxis=xa, yaxis=ya))
for lab, y, col in [("1\u2212year", 0.1655, "#00EE00"), ("3\u2212year", 0.0976, "#0000FF"), ("5\u2212year", 0.029, "#FF0000")]:
    fig.add_trace(go.Scatter(x=[0.742, 0.829], y=[y, y], mode="lines", line=dict(color=col, width=2), xaxis=xa, yaxis=ya))
    fig.add_trace(go.Scatter(x=[0.872], y=[y], mode="text", text=[lab], textposition="middle right",
                             textfont=dict(size=21.5, color="#222", family=FONT), xaxis=xa, yaxis=ya))
T("Observed OS (%)", 849.5, 1481, 20, angle=-90, color="#222")
T("Nomogram\u2212predicted OS (%)", 1165.6, 1735, 20, color="#222")

layout["annotations"] = ann
layout["shapes"] = shp
fig.update_layout(**layout)
fig.write_html("out.html", config=dict(displayModeBar=False), post_script="document.body.style.margin='0';")
